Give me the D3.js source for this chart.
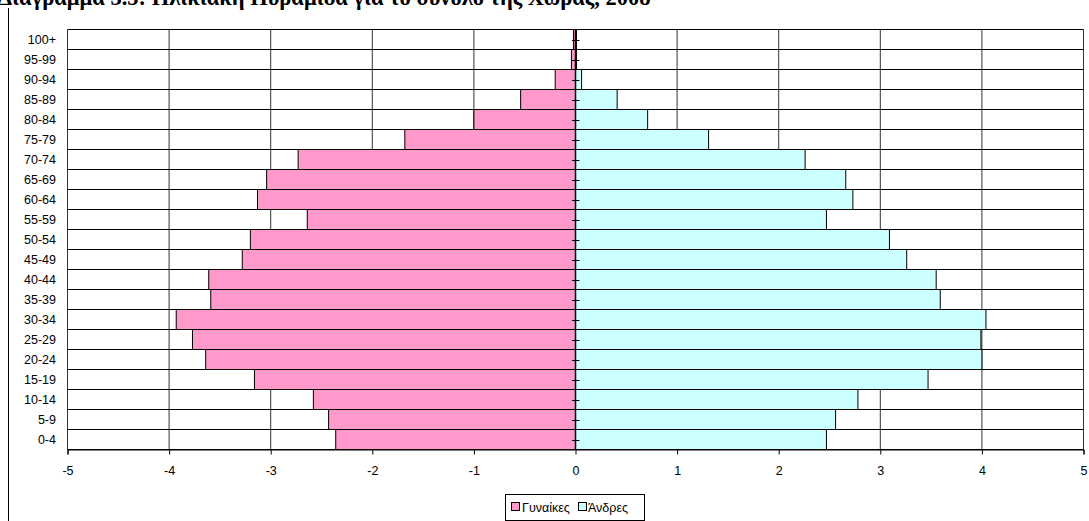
<!DOCTYPE html>
<html>
<head>
<meta charset="utf-8">
<script src="https://cdn.jsdelivr.net/npm/d3@7"></script>
<style>
  html, body { margin: 0; padding: 0; background: #fff; }
  svg { display: block; }
</style>
</head>
<body>
<svg id="chart" width="1089" height="521"></svg>
<script>
const titleText = "Διάγραμμα 3.5: Ηλικιακή Πυραμίδα για το σύνολο της Χώρας, 2008";
const categories = ["0-4","5-9","10-14","15-19","20-24","25-29","30-34","35-39","40-44","45-49","50-54","55-59","60-64","65-69","70-74","75-79","80-84","85-89","90-94","95-99","100+"];
const women = [-2.36,-2.43,-2.58,-3.16,-3.64,-3.77,-3.93,-3.59,-3.61,-3.28,-3.20,-2.64,-3.13,-3.04,-2.73,-1.68,-1.00,-0.54,-0.20,-0.04,-0.02];
const men = [2.47,2.56,2.78,3.47,4.00,3.99,4.04,3.59,3.55,3.26,3.09,2.47,2.73,2.66,2.26,1.31,0.71,0.41,0.06,0.01,0.01];
const xTicks = [-5,-4,-3,-2,-1,0,1,2,3,4,5];
const seriesNames = ["Γυναίκες","Άνδρες"];
const seriesColors = ["#FF99CC","#CCFFFF"];

const svg = d3.select("#chart");
const font = "Arial, 'Liberation Sans', sans-serif";
const fs = 12.5;

const x = d3.scaleLinear().domain([-5,5]).range([67.5,1083.5]);
const y = d3.scaleBand().domain(categories.slice().reverse()).range([29.5,449.5]).padding(0);

// frame line on the left
svg.append("line").attr("x1",8.5).attr("x2",8.5).attr("y1",8).attr("y2",521)
  .attr("stroke","#000").attr("stroke-width",1);

// title
const title = svg.append("text").attr("x",-2).attr("y",5)
  .attr("font-family","'Liberation Serif','Times New Roman',serif")
  .attr("font-weight","bold").attr("font-size",22.5)
  .attr("fill","#000").text(titleText);

const g = svg.append("g");

// vertical gridlines
g.selectAll("line.vg").data(xTicks).join("line").attr("class","vg")
  .attr("x1",d=>x(d)).attr("x2",d=>x(d)).attr("y1",29.5).attr("y2",449.5)
  .attr("stroke","#333").attr("stroke-width",1);

// horizontal gridlines at band boundaries
const bounds = y.domain().map(c=>y(c)).concat([449.5]);
g.selectAll("line.hg").data(bounds).join("line").attr("class","hg")
  .attr("x1",67.5).attr("x2",1083.5).attr("y1",d=>d).attr("y2",d=>d)
  .attr("stroke","#000").attr("stroke-width",1);

// bars
g.selectAll("rect.w").data(categories).join("rect").attr("class","w")
  .attr("x",(c,i)=>x(women[i])).attr("width",(c,i)=>x(0)-x(women[i]))
  .attr("y",c=>y(c)).attr("height",y.bandwidth())
  .attr("fill",seriesColors[0]).attr("stroke","#000").attr("stroke-width",1);
g.selectAll("rect.m").data(categories).join("rect").attr("class","m")
  .attr("x",x(0)).attr("width",(c,i)=>x(men[i])-x(0))
  .attr("y",c=>y(c)).attr("height",y.bandwidth())
  .attr("fill",seriesColors[1]).attr("stroke","#000").attr("stroke-width",1);

// x axis
const xAxis = d3.axisBottom(x).tickValues(xTicks).tickSize(5).tickPadding(12).tickFormat(d3.format("d"));
const xa = svg.append("g").attr("transform","translate(0,449.5)").call(xAxis);
xa.select(".domain").attr("stroke","#000");
xa.selectAll(".tick line").attr("stroke","#000");
xa.selectAll("text").attr("font-family",font).attr("font-size",fs).attr("fill","#000")
  .text(d=>d<0 ? "-"+Math.abs(d) : d);

// zero axis with crossing ticks at band centres
svg.append("line").attr("x1",x(0)).attr("x2",x(0)).attr("y1",29.5).attr("y2",449.5)
  .attr("stroke","#000").attr("stroke-width",1.5);
svg.selectAll("line.zt").data(categories).join("line").attr("class","zt")
  .attr("x1",x(0)-3.5).attr("x2",x(0)+4)
  .attr("y1",c=>Math.round(y(c)+y.bandwidth()/2)+0.5).attr("y2",c=>Math.round(y(c)+y.bandwidth()/2)+0.5)
  .attr("stroke","#000").attr("stroke-width",1);

// y labels
svg.selectAll("text.yl").data(categories).join("text").attr("class","yl")
  .attr("x",56).attr("y",c=>y(c)+y.bandwidth()/2)
  .attr("dy","0.35em").attr("text-anchor","end")
  .attr("font-family",font).attr("font-size",fs).attr("fill","#000").text(c=>c);

// legend
const lg = svg.append("g");
lg.append("rect").attr("x",505.5).attr("y",494.5).attr("width",139).attr("height",26)
  .attr("fill","#fff").attr("stroke","#000").attr("stroke-width",1);
const legX = [511.5, 578.5];
const legTX = [522, 588];
seriesNames.forEach((n,i)=>{
  lg.append("rect").attr("x",legX[i]).attr("y",502.5).attr("width",8).attr("height",8)
    .attr("fill",seriesColors[i]).attr("stroke","#000").attr("stroke-width",1);
  lg.append("text").attr("x",legTX[i]).attr("y",511.5).attr("font-family",font)
    .attr("font-size",fs).attr("fill","#000").text(n);
});
</script>
</body>
</html>
